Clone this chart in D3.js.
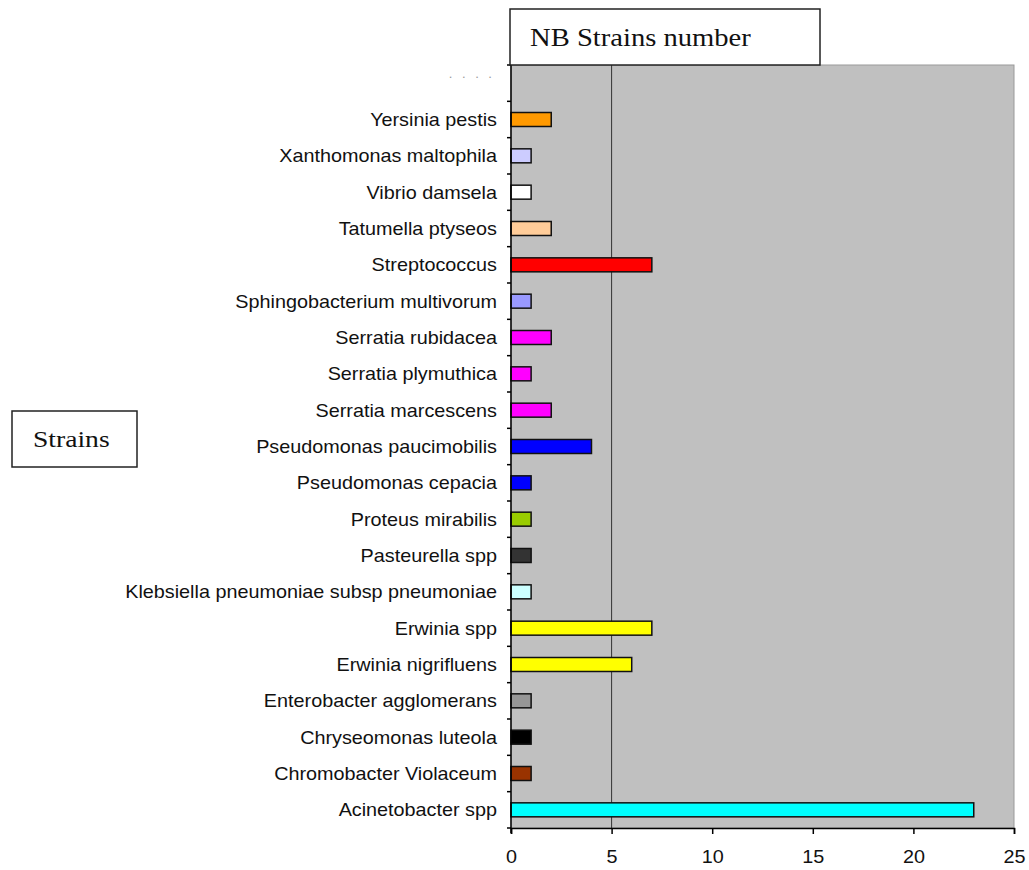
<!DOCTYPE html>
<html><head><meta charset="utf-8">
<script src="https://cdn.jsdelivr.net/npm/d3@7"></script>
<style>body{margin:0;background:#fff}</style>
</head><body>
<svg id="c" width="1029" height="870"></svg>
<script>
const categories = ["", "Yersinia pestis","Xanthomonas maltophila","Vibrio damsela","Tatumella ptyseos","Streptococcus","Sphingobacterium multivorum","Serratia rubidacea","Serratia plymuthica","Serratia marcescens","Pseudomonas paucimobilis","Pseudomonas cepacia","Proteus mirabilis","Pasteurella spp","Klebsiella pneumoniae subsp pneumoniae","Erwinia spp","Erwinia nigrifluens","Enterobacter agglomerans","Chryseomonas luteola","Chromobacter Violaceum","Acinetobacter spp"];
const values = [null, 2,1,1,2,7,1,2,1,2,4,1,1,1,1,7,6,1,1,1,23];
const colors = [null,"#FF9900","#CCCCFF","#FFFFFF","#FFCC99","#FF0000","#9999FF","#FF00FF","#FF00FF","#FF00FF","#0000FF","#0000FF","#99CC00","#333333","#CCFFFF","#FFFF00","#FFFF00","#969696","#000000","#993300","#00FFFF"];
const xTicks = [0,5,10,15,20,25];
const titleText = "NB Strains number";
const axisText = "Strains";

const svg = d3.select("#c");
const L=511, R=1014, T=65, B=828;
const SX = 1.1;
const x = d3.scaleLinear().domain([0,25]).range([L,R]);
const y = d3.scaleBand().domain(categories.map((c,i)=>i)).range([T,B]).paddingInner(0.615).paddingOuter(0.3075);

svg.append("rect").attr("x",L).attr("y",T).attr("width",R-L).attr("height",B-T).attr("fill","#C0C0C0").attr("stroke","#9a9a9a").attr("stroke-width",1);
svg.append("line").attr("x1",x(5)).attr("x2",x(5)).attr("y1",T).attr("y2",B).attr("stroke","#333").attr("stroke-width",1);

const data = categories.map((c,i)=>({c,i,v:values[i],col:colors[i]})).filter(d=>d.v!=null);
svg.selectAll("rect.bar").data(data).join("rect").attr("class","bar")
  .attr("x",x(0)).attr("y",d=>y(d.i)).attr("width",d=>x(d.v)-x(0)).attr("height",y.bandwidth())
  .attr("fill",d=>d.col).attr("stroke","#111").attr("stroke-width",1.5);

const step = (B-T)/categories.length;
svg.append("line").attr("x1",L).attr("x2",L).attr("y1",T).attr("y2",B+5).attr("stroke","#000").attr("stroke-width",1.5);
d3.range(categories.length+1).forEach(k=>{
  const yy=T+k*step;
  svg.append("line").attr("x1",L-4).attr("x2",L).attr("y1",yy).attr("y2",yy).attr("stroke","#000").attr("stroke-width",1.5);
});
svg.selectAll("g.cat").data(data).join("g").attr("class","cat")
  .attr("transform",d=>`translate(497,${y(d.i)+y.bandwidth()/2}) scale(${SX},1)`)
  .append("text").attr("dy","0.36em").attr("text-anchor","end")
  .attr("font-family","Liberation Sans, Arial, sans-serif").attr("font-size",18).attr("fill","#111").text(d=>d.c);
svg.append("text").attr("x",495).attr("y",78).attr("text-anchor","end").attr("font-family","Liberation Sans, Arial, sans-serif")
  .attr("font-size",13).attr("fill","#999").attr("letter-spacing",3).text(". . . .");

const ax = svg.append("g").attr("transform",`translate(0,${B})`).call(d3.axisBottom(x).tickValues(xTicks).tickSize(6).tickPadding(16));
ax.select(".domain").attr("stroke","#000").attr("stroke-width",1.5);
ax.selectAll(".tick line").attr("stroke","#000").attr("stroke-width",1.5);
ax.selectAll(".tick text").attr("font-family","Liberation Sans, Arial, sans-serif").attr("font-size",18).attr("fill","#111")
  .attr("transform",`scale(${SX},1)`).attr("x",0);

svg.append("rect").attr("x",510).attr("y",9).attr("width",310).attr("height",56).attr("fill","#fff").attr("stroke","#222").attr("stroke-width",1.5);
svg.append("g").attr("transform",`translate(530,46) scale(1.1,1)`).append("text")
  .attr("font-family","Liberation Serif, Times New Roman, serif").attr("font-size",26).attr("fill","#111").text(titleText);
svg.append("rect").attr("x",12).attr("y",411).attr("width",125).attr("height",56).attr("fill","#fff").attr("stroke","#222").attr("stroke-width",1.5);
svg.append("g").attr("transform",`translate(33,447) scale(1.15,1)`).append("text")
  .attr("font-family","Liberation Serif, Times New Roman, serif").attr("font-size",24).attr("fill","#111").text(axisText);
</script>
</body></html>
